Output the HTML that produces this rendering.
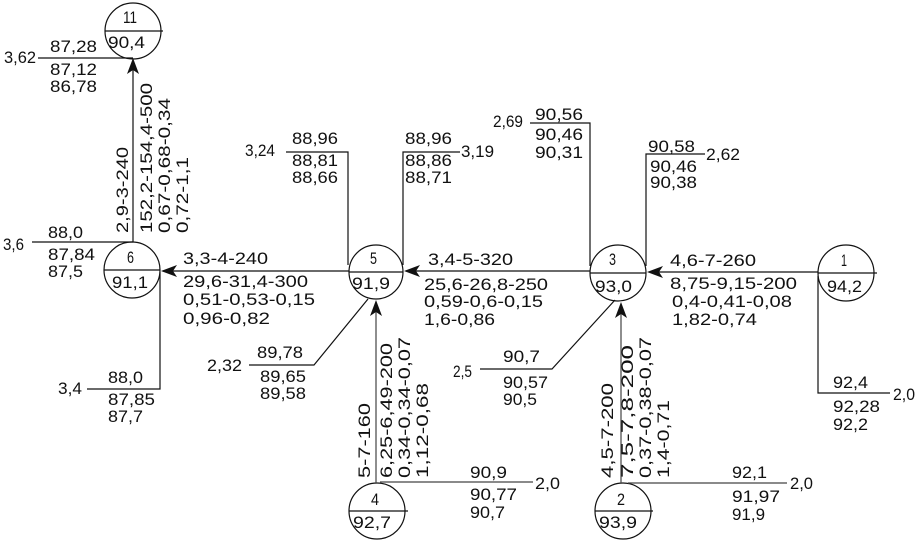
<!DOCTYPE html>
<html><head><meta charset="utf-8"><style>
html,body{margin:0;padding:0;background:#fff;}
svg{display:block;}
text{font-family:"Liberation Sans",sans-serif;font-size:17px;fill:#111;}
</style></head><body>
<svg width="924" height="541" viewBox="0 0 924 541" xmlns="http://www.w3.org/2000/svg">
<g stroke="#111" stroke-width="1.2" fill="none">
<circle cx="133" cy="31" r="28"/><line x1="105" y1="31" x2="163" y2="31"/>
<circle cx="132" cy="270" r="28"/><line x1="104" y1="270" x2="160" y2="270"/>
<circle cx="376" cy="272" r="27"/><line x1="349" y1="272" x2="403" y2="272"/>
<circle cx="618" cy="273" r="28"/><line x1="590" y1="273" x2="646" y2="273"/>
<circle cx="846" cy="273" r="28"/><line x1="818" y1="273" x2="877" y2="273"/>
<circle cx="377" cy="511" r="28"/><line x1="349" y1="511" x2="408" y2="511"/>
<circle cx="623" cy="511" r="28"/><line x1="595" y1="511" x2="653" y2="511"/>
<line x1="818" y1="272" x2="650" y2="272"/>
<line x1="590" y1="271" x2="406" y2="271"/>
<line x1="349" y1="271" x2="163" y2="271"/>
<line x1="133" y1="242" x2="133" y2="62"/>
<line x1="38" y1="58" x2="133" y2="58"/>
<line x1="32" y1="242" x2="133" y2="242"/>
<polyline points="160,272 160,389 87,389"/>
<polyline points="348,265 348,152 286,152"/>
<polyline points="403,265 403,152 460,152"/>
<polyline points="368,299 314,365 249,365"/>
<polyline points="590,266 590,123 530,123"/>
<polyline points="646,266 646,154 705,154"/>
<polyline points="615,300 552,369 480,369"/>
<polyline points="818,276 818,393 890,393"/>
</g>
<g stroke="#444" stroke-width="1.2" fill="none">
<line x1="376" y1="483" x2="376" y2="304"/>
<line x1="380" y1="482" x2="533" y2="482"/>
<line x1="621" y1="483" x2="621" y2="305"/>
<line x1="628" y1="483" x2="787" y2="483"/>
</g>
<g fill="#111">
<polygon points="133,58 127,74 133,70 139,74"/>
<polygon points="161,271 177,265 173,271 177,277"/>
<polygon points="404,271 420,265 416,271 420,277"/>
<polygon points="647,272 663,266 659,272 663,278"/>
<polygon points="376,300 370,316 376,312 382,316"/>
<polygon points="621,302 615,318 621,314 627,318"/>
</g>
<g>
<text x="123" y="23" textLength="14" lengthAdjust="spacingAndGlyphs">11</text>
<text x="108" y="48" textLength="37" lengthAdjust="spacingAndGlyphs">90,4</text>
<text x="127" y="263" textLength="7" lengthAdjust="spacingAndGlyphs">6</text>
<text x="112" y="288" textLength="36" lengthAdjust="spacingAndGlyphs">91,1</text>
<text x="370" y="264" textLength="7" lengthAdjust="spacingAndGlyphs">5</text>
<text x="352" y="289" textLength="38" lengthAdjust="spacingAndGlyphs">91,9</text>
<text x="609" y="265" textLength="7" lengthAdjust="spacingAndGlyphs">3</text>
<text x="595" y="292" textLength="37" lengthAdjust="spacingAndGlyphs">93,0</text>
<text x="841" y="266" textLength="6" lengthAdjust="spacingAndGlyphs">1</text>
<text x="827" y="292" textLength="35" lengthAdjust="spacingAndGlyphs">94,2</text>
<text x="371" y="505" textLength="8" lengthAdjust="spacingAndGlyphs">4</text>
<text x="353" y="528" textLength="38" lengthAdjust="spacingAndGlyphs">92,7</text>
<text x="617" y="505" textLength="8" lengthAdjust="spacingAndGlyphs">2</text>
<text x="599" y="528" textLength="38" lengthAdjust="spacingAndGlyphs">93,9</text>

<text x="4" y="63" textLength="32" lengthAdjust="spacingAndGlyphs">3,62</text>
<text x="50" y="52" textLength="47" lengthAdjust="spacingAndGlyphs">87,28</text>
<text x="50" y="75" textLength="47" lengthAdjust="spacingAndGlyphs">87,12</text>
<text x="50" y="92" textLength="47" lengthAdjust="spacingAndGlyphs">86,78</text>
<text transform="translate(128,233) rotate(-90)" textLength="86" lengthAdjust="spacingAndGlyphs">2,9-3-240</text>
<text transform="translate(152,233) rotate(-90)" textLength="150" lengthAdjust="spacingAndGlyphs">152,2-154,4-500</text>
<text transform="translate(170,233) rotate(-90)" textLength="135" lengthAdjust="spacingAndGlyphs">0,67-0,68-0,34</text>
<text transform="translate(188,233) rotate(-90)" textLength="76" lengthAdjust="spacingAndGlyphs">0,72-1,1</text>
<text x="3" y="250" textLength="21" lengthAdjust="spacingAndGlyphs">3,6</text>
<text x="48" y="238" textLength="35" lengthAdjust="spacingAndGlyphs">88,0</text>
<text x="48" y="260" textLength="47" lengthAdjust="spacingAndGlyphs">87,84</text>
<text x="48" y="277" textLength="35" lengthAdjust="spacingAndGlyphs">87,5</text>
<text x="58" y="394" textLength="24" lengthAdjust="spacingAndGlyphs">3,4</text>
<text x="108" y="383" textLength="35" lengthAdjust="spacingAndGlyphs">88,0</text>
<text x="108" y="405" textLength="47" lengthAdjust="spacingAndGlyphs">87,85</text>
<text x="108" y="422" textLength="35" lengthAdjust="spacingAndGlyphs">87,7</text>
<text x="183" y="264" textLength="85" lengthAdjust="spacingAndGlyphs">3,3-4-240</text>
<text x="183" y="287" textLength="125" lengthAdjust="spacingAndGlyphs">29,6-31,4-300</text>
<text x="183" y="305" textLength="132" lengthAdjust="spacingAndGlyphs">0,51-0,53-0,15</text>
<text x="183" y="324" textLength="87" lengthAdjust="spacingAndGlyphs">0,96-0,82</text>
<text x="245" y="156" textLength="30" lengthAdjust="spacingAndGlyphs">3,24</text>
<text x="292" y="144" textLength="46" lengthAdjust="spacingAndGlyphs">88,96</text>
<text x="292" y="166" textLength="46" lengthAdjust="spacingAndGlyphs">88,81</text>
<text x="292" y="183" textLength="46" lengthAdjust="spacingAndGlyphs">88,66</text>
<text x="405" y="144" textLength="47" lengthAdjust="spacingAndGlyphs">88,96</text>
<text x="461" y="157" textLength="33" lengthAdjust="spacingAndGlyphs">3,19</text>
<text x="405" y="166" textLength="47" lengthAdjust="spacingAndGlyphs">88,86</text>
<text x="405" y="183" textLength="47" lengthAdjust="spacingAndGlyphs">88,71</text>
<text x="207" y="371" textLength="35" lengthAdjust="spacingAndGlyphs">2,32</text>
<text x="257" y="358" textLength="46" lengthAdjust="spacingAndGlyphs">89,78</text>
<text x="260" y="382" textLength="46" lengthAdjust="spacingAndGlyphs">89,65</text>
<text x="260" y="399" textLength="46" lengthAdjust="spacingAndGlyphs">89,58</text>
<text x="428" y="265" textLength="85" lengthAdjust="spacingAndGlyphs">3,4-5-320</text>
<text x="424" y="290" textLength="124" lengthAdjust="spacingAndGlyphs">25,6-26,8-250</text>
<text x="424" y="307" textLength="119" lengthAdjust="spacingAndGlyphs">0,59-0,6-0,15</text>
<text x="424" y="325" textLength="71" lengthAdjust="spacingAndGlyphs">1,6-0,86</text>
<text transform="translate(370,478) rotate(-90)" textLength="75" lengthAdjust="spacingAndGlyphs">5-7-160</text>
<text transform="translate(392,478) rotate(-90)" textLength="135" lengthAdjust="spacingAndGlyphs">6,25-6,49-200</text>
<text transform="translate(410,478) rotate(-90)" textLength="141" lengthAdjust="spacingAndGlyphs">0,34-0,34-0,07</text>
<text transform="translate(428,478) rotate(-90)" textLength="95" lengthAdjust="spacingAndGlyphs">1,12-0,68</text>
<text x="470" y="478" textLength="37" lengthAdjust="spacingAndGlyphs">90,9</text>
<text x="535" y="489" textLength="25" lengthAdjust="spacingAndGlyphs">2,0</text>
<text x="470" y="500" textLength="47" lengthAdjust="spacingAndGlyphs">90,77</text>
<text x="470" y="518" textLength="35" lengthAdjust="spacingAndGlyphs">90,7</text>
<text x="453" y="377" textLength="19" lengthAdjust="spacingAndGlyphs">2,5</text>
<text x="503" y="362" textLength="37" lengthAdjust="spacingAndGlyphs">90,7</text>
<text x="503" y="388" textLength="45" lengthAdjust="spacingAndGlyphs">90,57</text>
<text x="503" y="405" textLength="34" lengthAdjust="spacingAndGlyphs">90,5</text>
<text transform="translate(613,478) rotate(-90)" textLength="95" lengthAdjust="spacingAndGlyphs">4,5-7-200</text>
<text transform="translate(633,478) rotate(-90)" textLength="133" lengthAdjust="spacingAndGlyphs">7,5-7,8-200</text>
<text transform="translate(651,478) rotate(-90)" textLength="141" lengthAdjust="spacingAndGlyphs">0,37-0,38-0,07</text>
<text transform="translate(669,478) rotate(-90)" textLength="78" lengthAdjust="spacingAndGlyphs">1,4-0,71</text>
<text x="732" y="478" textLength="35" lengthAdjust="spacingAndGlyphs">92,1</text>
<text x="790" y="489" textLength="23" lengthAdjust="spacingAndGlyphs">2,0</text>
<text x="732" y="502" textLength="48" lengthAdjust="spacingAndGlyphs">91,97</text>
<text x="732" y="520" textLength="33" lengthAdjust="spacingAndGlyphs">91,9</text>
<text x="493" y="127" textLength="30" lengthAdjust="spacingAndGlyphs">2,69</text>
<text x="535" y="120" textLength="48" lengthAdjust="spacingAndGlyphs">90,56</text>
<text x="535" y="140" textLength="48" lengthAdjust="spacingAndGlyphs">90,46</text>
<text x="535" y="158" textLength="48" lengthAdjust="spacingAndGlyphs">90,31</text>
<text x="648" y="152" textLength="47" lengthAdjust="spacingAndGlyphs">90,58</text>
<text x="706" y="160" textLength="34" lengthAdjust="spacingAndGlyphs">2,62</text>
<text x="650" y="172" textLength="47" lengthAdjust="spacingAndGlyphs">90,46</text>
<text x="650" y="188" textLength="47" lengthAdjust="spacingAndGlyphs">90,38</text>
<text x="670" y="266" textLength="86" lengthAdjust="spacingAndGlyphs">4,6-7-260</text>
<text x="670" y="289" textLength="127" lengthAdjust="spacingAndGlyphs">8,75-9,15-200</text>
<text x="672" y="307" textLength="120" lengthAdjust="spacingAndGlyphs">0,4-0,41-0,08</text>
<text x="672" y="325" textLength="85" lengthAdjust="spacingAndGlyphs">1,82-0,74</text>
<text x="833" y="388" textLength="35" lengthAdjust="spacingAndGlyphs">92,4</text>
<text x="893" y="400" textLength="22" lengthAdjust="spacingAndGlyphs">2,0</text>
<text x="833" y="412" textLength="47" lengthAdjust="spacingAndGlyphs">92,28</text>
<text x="833" y="430" textLength="35" lengthAdjust="spacingAndGlyphs">92,2</text>
</g>
</svg>
</body></html>
